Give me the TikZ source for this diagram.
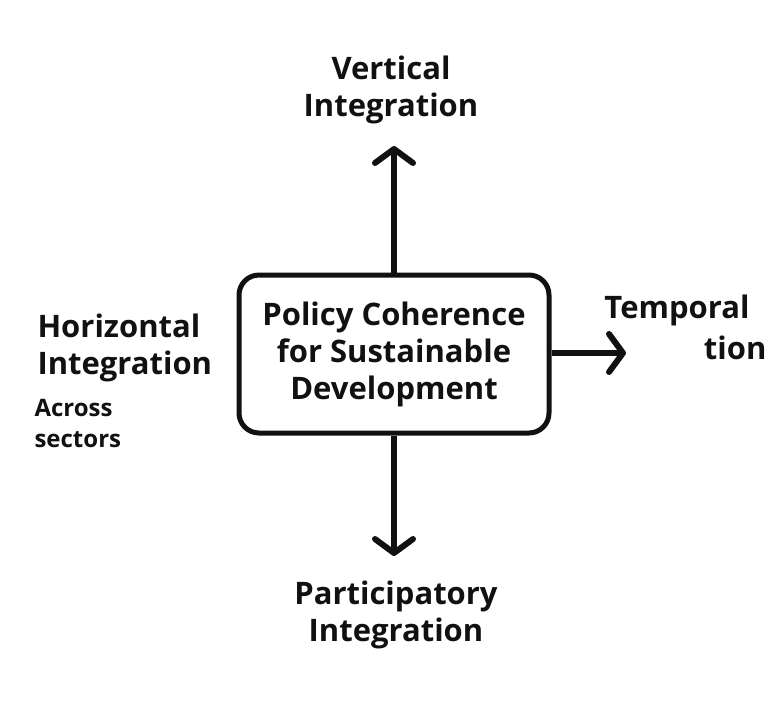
\documentclass[tikz,border=0pt]{standalone}
\usepackage{fontspec}
\setmainfont{Open Sans}
\usepackage{xcolor}
\usepackage{tikz}
\usetikzlibrary{arrows.meta,positioning}
\definecolor{inkblack}{HTML}{111111}
\newcommand{\bigtxt}{\fontsize{31}{37}\selectfont\bfseries}
\newcommand{\smalltxt}{\fontsize{24}{31}\selectfont\bfseries}

\begin{document}
\begin{tikzpicture}[x=1pt, y=-1pt, >={Straight Barb[length=14pt, width=38pt, round]}]
        \useasboundingbox[fill=white] (0,0) rectangle (775,724);
        % Central policy box
        \node[draw=inkblack, line width=5pt, rounded corners=20pt, minimum width=310pt, minimum height=158pt,
              align=center, text=inkblack, font=\bigtxt] (pcsd) at (394,354)
              {Policy Coherence\\for Sustainable\\Development};

        % Arrow end points
        \coordinate (vtip) at (394,146);
        \coordinate (ptip) at (394,556);
        \coordinate (ttip) at (626,353);

        % Four dimensions
        \draw[->, line width=6pt, inkblack] (pcsd.north) -- (vtip);
        \draw[->, line width=6pt, inkblack] (pcsd.south) -- (ptip);
        \draw[->, line width=6pt, inkblack] (pcsd.east |- ttip) -- (ttip);

        % Labels
        \node[align=center, text=inkblack, font=\bigtxt] (vert) at (391,90) {Vertical\\Integration};
        \node[align=center, text=inkblack, font=\bigtxt] (particip) at (396,615) {Participatory\\Integration};
        \node[align=left, anchor=west, text=inkblack, font=\bigtxt] (horiz) at (34,348) {Horizontal\\Integration};
        \node[align=left, anchor=west, text=inkblack, font=\smalltxt] (across) at (31,424) {Across\\sectors};
        \node[align=right, anchor=east, text=inkblack, font=\bigtxt] (temporal) at (770,327) {Temporal\hspace*{17pt}\\[4pt]tion};
\end{tikzpicture}
\end{document}
